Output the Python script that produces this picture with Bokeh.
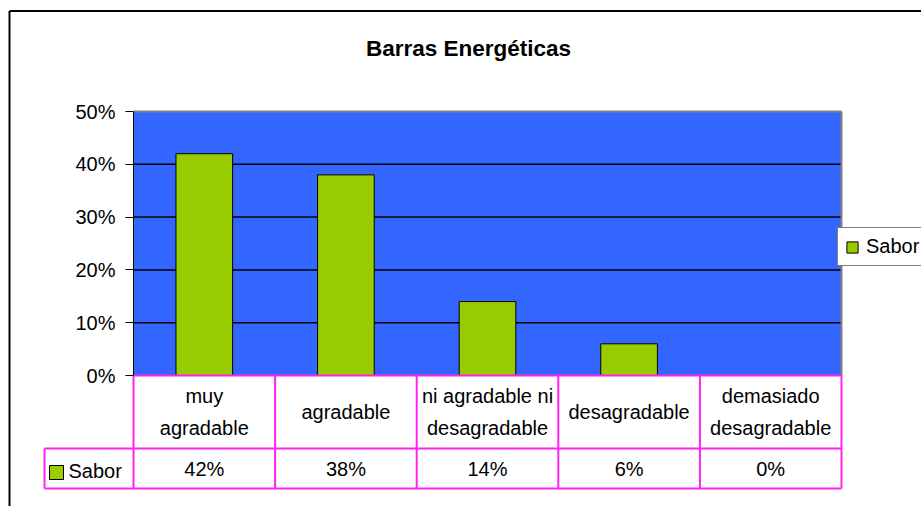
from bokeh.plotting import figure
from bokeh.models import Range1d, FixedTicker, NumeralTickFormatter, Legend, LegendItem, Label
from bokeh.embed import file_html
from bokeh.resources import INLINE
from bokeh.core.properties import value

# ---- data ----
title = "Barras Energéticas"
categories = ["muy\nagradable", "agradable", "ni agradable ni\ndesagradable",
              "desagradable", "demasiado\ndesagradable"]
series_name = "Sabor"
sabor = [0.42, 0.38, 0.14, 0.06, 0.0]
y_ticks = [0.0, 0.1, 0.2, 0.3, 0.4, 0.5]

# ---- style ----
FONT = "Liberation Sans"
BLUE = "#3366FF"
GREEN = "#99CC00"
MAGENTA = "#FF22EE"
GRAY = "#808080"

n = len(categories)
xs = [i + 0.5 for i in range(n)]
labels = [f"{round(v * 100)}%" for v in sabor]
ymax = max(y_ticks)

# layout: canvas fills the window; plot area 708 x 264 px
W, H = 921, 506
PA_LEFT, PA_BOTTOM = 133, 375          # plot-area origin in canvas px
PX_X = 708 / n                         # px per category
PX_Y = 264 / ymax                      # px per y unit


def dx(px):
    return px / PX_X


def dy(px):
    return px / PX_Y


leg_col = dx(89)
row1 = dy(73)
row2 = dy(113)

p = figure(width=W, height=H, output_backend="svg", toolbar_location=None,
           x_range=Range1d(dx(-PA_LEFT), dx(W - PA_LEFT)),
           y_range=Range1d(dy(PA_BOTTOM - H), dy(PA_BOTTOM)),
           x_axis_location=None,
           min_border_left=0, min_border_right=0, min_border_top=0, min_border_bottom=0)
p.background_fill_color = "white"
p.border_fill_color = "white"
p.outline_line_color = None
p.xgrid.visible = False
p.ygrid.visible = False

# chart-area border (left and top, continuing past the window)
bx = dx(9 - PA_LEFT)
by = dy(PA_BOTTOM - 10.5)
p.segment(x0=[bx, bx], x1=[bx, dx(W - PA_LEFT) + 1], y0=[by, by], y1=[dy(PA_BOTTOM - H) - 1, by],
          line_color="black", line_width=2)

# plot area background
p.quad(left=0, right=n, bottom=0, top=ymax, fill_color=BLUE, line_color=None)
# gridlines
inner = [t for t in y_ticks if 0 < t < ymax]
p.segment(x0=[0] * len(inner), x1=[n] * len(inner), y0=inner, y1=inner,
          line_color="black", line_width=1.5)
# plot area top / right border
p.segment(x0=[0, n], x1=[n, n], y0=[ymax, 0], y1=[ymax, ymax], line_color=GRAY, line_width=2)

# bars
bars = p.vbar(x=xs, top=sabor, width=0.4, bottom=0, fill_color=GREEN, line_color="black", line_width=1)

# data table
hx0 = [0, -leg_col, -leg_col]
hx1 = [n, n, n]
hy = [0, -row1, -row2]
vx = list(range(n + 1)) + [-leg_col]
vy0 = [0] * (n + 1) + [-row1]
vy1 = [-row2] * (n + 2)
p.segment(x0=hx0, x1=hx1, y0=hy, y1=hy, line_color=MAGENTA, line_width=2)
p.segment(x0=vx, x1=vx, y0=vy0, y1=vy1, line_color=MAGENTA, line_width=2)

p.text(x=xs, y=[-row1 / 2] * n, text=categories, text_align="center", text_baseline="middle",
       text_font=value(FONT), text_font_size="20px", text_line_height=1.45, text_color="black")
p.text(x=xs, y=[-(row1 + row2) / 2] * n, text=labels, text_align="center", text_baseline="middle",
       text_font=value(FONT), text_font_size="20px", text_color="black")
p.rect(x=[-leg_col + dx(12)], y=[-(row1 + row2) / 2 - dy(4)], width=14, height=14,
       width_units="screen", height_units="screen", fill_color=GREEN, line_color="black", line_width=1)
p.text(x=[-leg_col + dx(24)], y=[-(row1 + row2) / 2 - dy(2)], text=[series_name], text_align="left",
       text_baseline="middle", text_font=value(FONT), text_font_size="20px", text_color="black")

# y axis
ax = p.yaxis[0]
ax.fixed_location = 0
ax.bounds = (0, ymax)
ax.ticker = FixedTicker(ticks=y_ticks)
ax.formatter = NumeralTickFormatter(format="0%")
ax.major_tick_out = 8
ax.major_tick_in = 0
ax.minor_tick_line_color = None
ax.axis_line_color = "black"
ax.axis_line_width = 1
ax.major_tick_line_color = "black"
ax.major_label_text_font = FONT
ax.major_label_text_font_size = "20px"
ax.major_label_text_color = "black"
ax.major_label_standoff = 10

# legend (box left at x 837, bottom at y 266)
legend = Legend(items=[LegendItem(label=series_name, renderers=[bars])],
                location=(837, H - 266), orientation="vertical",
                glyph_width=14, glyph_height=14, label_standoff=7, padding=7,
                border_line_color="black", border_line_width=1, background_fill_color="white",
                background_fill_alpha=1, label_text_font=FONT, label_text_font_size="20px",
                label_text_color="black")
p.add_layout(legend, "center")

# title
p.add_layout(Label(x=468, y=H - 48, x_units="screen", y_units="screen", text=title,
                   text_font=FONT, text_font_size="22.5px", text_font_style="bold",
                   text_align="center", text_baseline="middle", text_color="black"))

open("out.html", "w").write(file_html(p, INLINE))
